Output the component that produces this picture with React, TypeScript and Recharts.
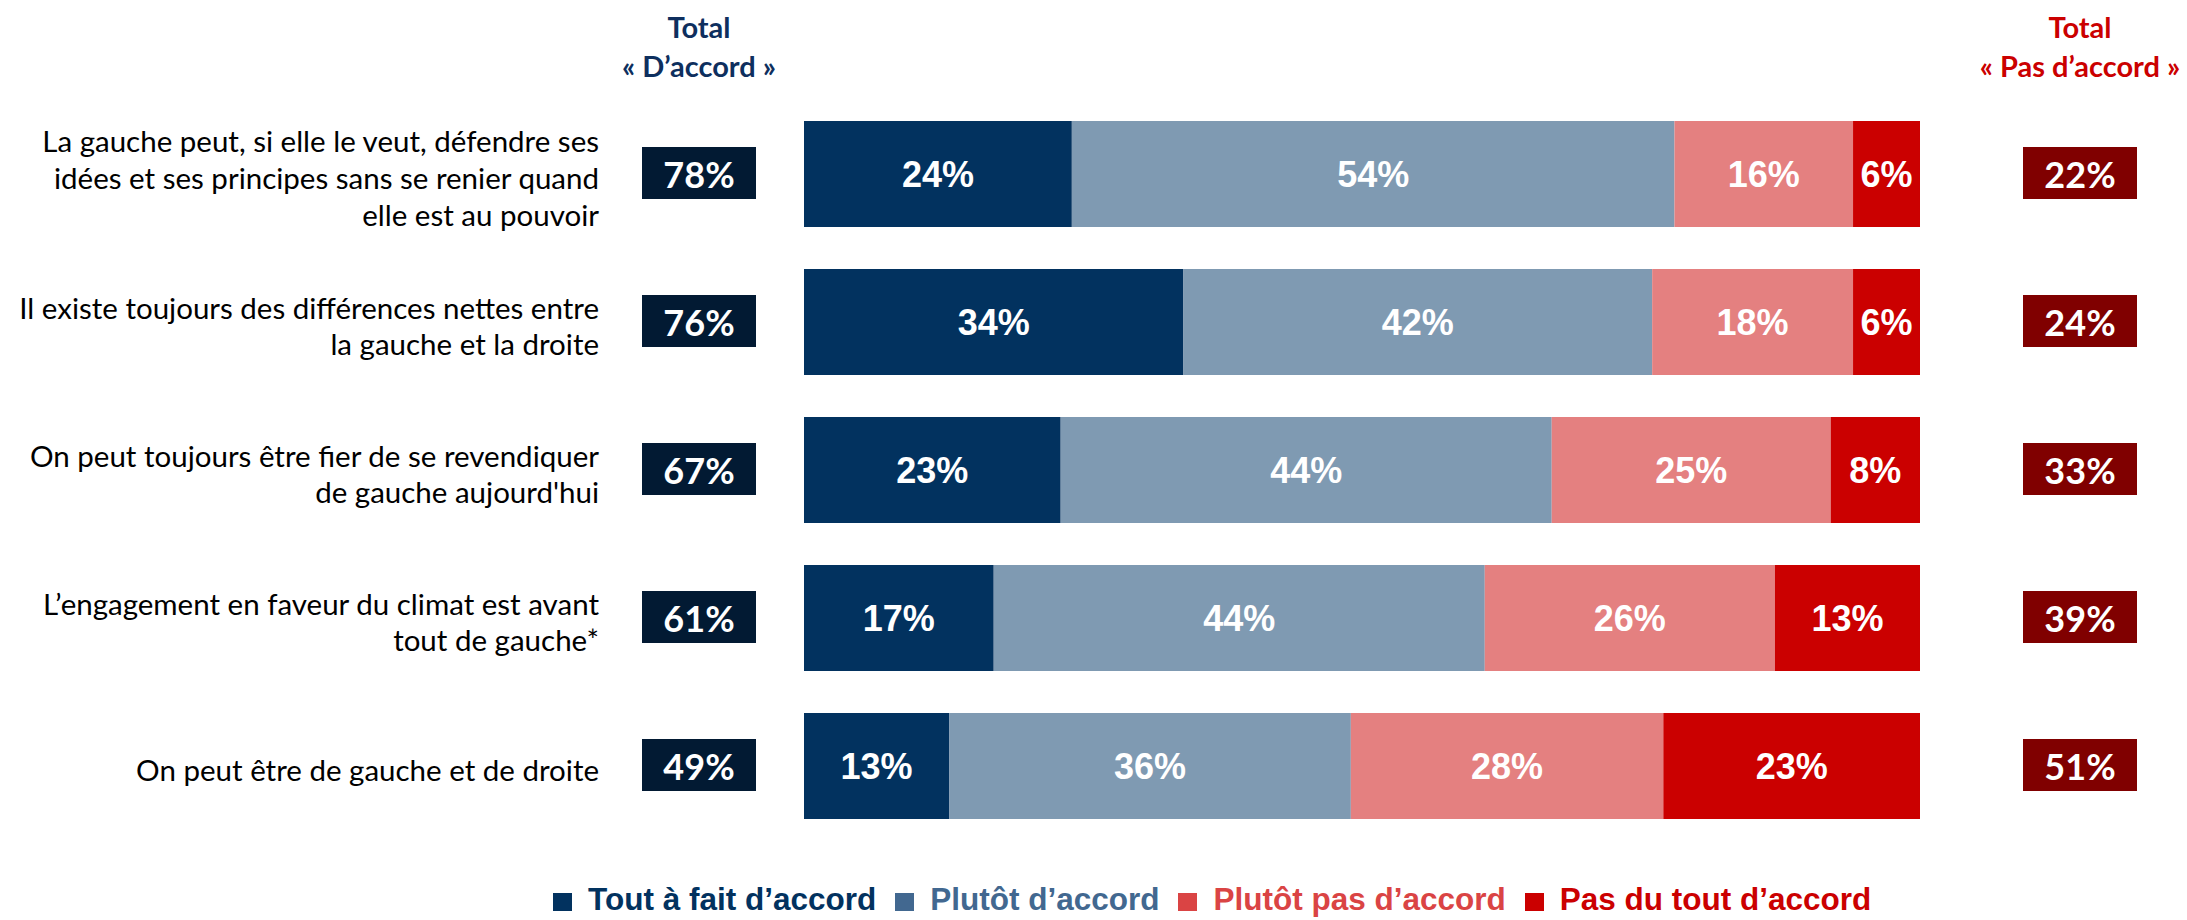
import { BarChart, Bar, XAxis, YAxis, LabelList } from 'recharts';

// statements, wrapped the way the source slide wraps them
const QUESTIONS = [
  ['La gauche peut, si elle le veut, défendre ses', 'idées et ses principes sans se renier quand', 'elle est au pouvoir'],
  ['Il existe toujours des différences nettes entre', 'la gauche et la droite'],
  ['On peut toujours être fier de se revendiquer', "de gauche aujourd'hui"],
  ['L’engagement en faveur du climat est avant', 'tout de gauche*'],
  ['On peut être de gauche et de droite'],
];
const TOUT_A_FAIT = [24, 34, 23, 17, 13];
const PLUTOT = [54, 42, 44, 44, 36];
const PLUTOT_PAS = [16, 18, 25, 26, 28];
const PAS_DU_TOUT = [6, 6, 8, 13, 23];
const TOTAL_ACCORD = [78, 76, 67, 61, 49];
const TOTAL_PAS = [22, 24, 33, 39, 51];

const SERIES = [
  { key: 'toutAFait', name: 'Tout à fait d’accord', color: '#02325f', legend: '#02325f' },
  { key: 'plutot', name: 'Plutôt d’accord', color: '#7f9ab2', legend: '#426890' },
  { key: 'plutotPas', name: 'Plutôt pas d’accord', color: '#e48080', legend: '#da4444' },
  { key: 'pasDuTout', name: 'Pas du tout d’accord', color: '#cb0000', legend: '#cb0000' },
];

const LABELS = QUESTIONS.map((q) => q.join(' '));

const data = LABELS.map((q, i) => ({
  q,
  toutAFait: TOUT_A_FAIT[i],
  plutot: PLUTOT[i],
  plutotPas: PLUTOT_PAS[i],
  pasDuTout: PAS_DU_TOUT[i],
}));

const labelFont = 'Lato, "Noto Sans", sans-serif';
const barFont = '"Liberation Sans", Arial, sans-serif';
const LINE_H = 36.7;

function QuestionTick(props: any) {
  const { y, payload } = props;
  const i = LABELS.indexOf(payload.value);
  const lines = QUESTIONS[i] || [];
  const top = y + 3 - ((lines.length - 1) * LINE_H) / 2;
  return (
    <g>
      <text x={599} y={top} textAnchor="end" dominantBaseline="central" fill="#000" fontSize={29.5} fontFamily={labelFont}>
        {lines.map((l, k) => (
          <tspan key={k} x={599} dy={k === 0 ? 0 : LINE_H}>{l}</tspan>
        ))}
      </text>
      <rect x={642} y={y - 27} width={114} height={52} fill="#021a33" />
      <text x={699} y={y} textAnchor="middle" dominantBaseline="central" fill="#fff" fontSize={36} fontWeight={700} fontFamily={labelFont}>
        {TOTAL_ACCORD[i]}%
      </text>
      <rect x={2023} y={y - 27} width={114} height={52} fill="#800000" />
      <text x={2080} y={y} textAnchor="middle" dominantBaseline="central" fill="#fff" fontSize={36} fontWeight={700} fontFamily={labelFont}>
        {TOTAL_PAS[i]}%
      </text>
    </g>
  );
}

const headStyle = {
  position: 'absolute' as const,
  width: 320,
  textAlign: 'center' as const,
  fontFamily: labelFont,
  fontWeight: 700,
  fontSize: 29,
  lineHeight: '39px',
};

export default function App() {
  return (
    <div style={{ position: 'absolute', left: 0, top: 0, width: 2187, height: 920, background: '#fff', overflow: 'hidden' }}>
      <div style={{ ...headStyle, left: 699 - 160, top: 7, color: '#0e2f5e' }}>
        Total<br />« D’accord »
      </div>
      <div style={{ ...headStyle, left: 2080 - 160, top: 7, color: '#cb0000' }}>
        Total<br />« Pas d’accord »
      </div>

      <BarChart
        width={2187}
        height={920}
        data={data}
        layout="vertical"
        margin={{ top: 100, right: 267, bottom: 80, left: 0 }}
      >
        <XAxis type="number" domain={[0, 100]} hide />
        <YAxis type="category" dataKey="q" width={804} tick={QuestionTick} tickLine={false} axisLine={false} interval={0} />
        {SERIES.map((s) => (
          <Bar key={s.key} dataKey={s.key} name={s.name} stackId="a" fill={s.color} barSize={106} isAnimationActive={false}>
            <LabelList
              dataKey={s.key}
              position="center"
              fill="#fff"
              fontSize={36}
              fontWeight={700}
              fontFamily={barFont}
              formatter={(v: any) => `${v}%`}
            />
          </Bar>
        ))}
      </BarChart>

      <div
        style={{
          position: 'absolute',
          left: 553,
          top: 884,
          display: 'flex',
          alignItems: 'center',
          fontFamily: barFont,
          fontWeight: 700,
          fontSize: 31.5,
          lineHeight: '31px',
          whiteSpace: 'nowrap',
        }}
      >
        {SERIES.map((s) => (
          <div key={s.key} style={{ display: 'flex', alignItems: 'center', marginRight: 19 }}>
            <span style={{ display: 'inline-block', width: 19, height: 18, background: s.legend, marginRight: 16, marginTop: 4 }} />
            <span style={{ color: s.legend }}>{s.name}</span>
          </div>
        ))}
      </div>
    </div>
  );
}
